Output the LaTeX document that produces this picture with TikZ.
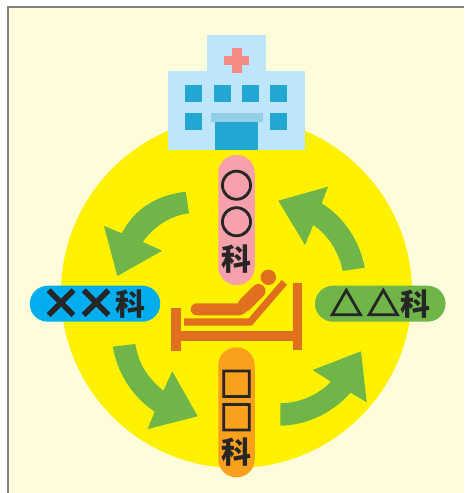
\documentclass[tikz,border=0pt]{standalone}
\usepackage{fontspec}
\usepackage{xcolor}
\usepackage{tikz}
\usetikzlibrary{positioning}
\newfontfamily\cjk{Noto Sans CJK JP}
\newfontfamily\cjkmark{Noto Sans CJK JP}[FakeBold=3.6]
\newfontfamily\cjkcross{Noto Sans CJK JP}[FakeBold=1]
\newcommand{\pmark}[2]{{\cjkmark\fontsize{#1}{33.5}\selectfont #2}}
\newcommand{\pcross}{\raisebox{-3pt}{\cjkcross\fontsize{42}{33.5}\selectfont ×}}
\definecolor{paper}{HTML}{FFFCDB}
\definecolor{sun}{HTML}{FFF100}
\definecolor{leaf}{HTML}{6FB548}
\definecolor{sky}{HTML}{00AEEF}
\definecolor{peach}{HTML}{FBA01D}
\definecolor{rose}{HTML}{F5A0AA}
\definecolor{rust}{HTML}{E1701E}
\definecolor{ward}{HTML}{BDE6FB}
\definecolor{pane}{HTML}{22A7D2}
\definecolor{awning}{HTML}{93CEE9}
\definecolor{redcross}{HTML}{F68A84}
\begin{document}
\begin{tikzpicture}[x=1pt, y=-1pt,
  pill/.style={rounded corners=18pt, inner sep=0pt, align=center, text=black!85,
               font=\cjk\bfseries\fontsize{30}{33.5}\selectfont},
  hpill/.style={pill, minimum width=130.5pt, minimum height=36pt},
  vpill/.style={pill, minimum width=36.5pt, minimum height=130pt},
  flow/.style={fill=leaf},
  pane box/.style={fill=pane}
]
  \useasboundingbox (0,0) rectangle (464,493);

  % Sheet
  \fill[paper] (8,7) rectangle (464,493);
  \draw[black!50, line width=1.6pt] (8,493) -- (8,7) -- (464,7);

  % Big disc
  \fill[sun] (236.5,292.5) circle [radius=175.5];

  % Hospital
  \fill[ward] (207,35) rectangle (266.3,71);
  \fill[ward] (167.7,70.7) rectangle (305.3,149.7);
  \fill[redcross] (232,48) rectangle (241.7,73.3);
  \fill[redcross] (224,56) rectangle (249,65.3);
  \foreach \px in {185,214,242,270}
    \fill[pane box] (\px,85) rectangle ++(17,17);
  \foreach \px in {185,270}
    \fill[pane box] (\px,113) rectangle ++(17,17);
  \fill[awning] (211,113) rectangle (263,122);
  \fill[pane box] (215,122) rectangle (258,149.7);

  % Departments
  \node[vpill, fill=rose] (maru) at (236.5,220) {};
  \node[vpill, fill=peach] (shikaku) at (236.5,412.3) {};
  \node[hpill, fill=sky] (batsu) at (95,303.7) {};
  \node[hpill, fill=leaf] (sankaku) at (380.3,303.7) {};

  % Labels on them
  \node[pill] (maru text) at ([yshift=-2pt]maru.center) {\pmark{33}{○}\\[3pt]\pmark{33}{○}\\[3pt]科};
  \node[pill] (shikaku text) at ([yshift=-6pt]shikaku.center) {\pmark{34}{□}\\\pmark{34}{□}\\科};
  \node[pill] (batsu text) at ([xshift=-2pt]batsu.center) {\pcross\hspace{-7pt}\pcross\hspace{-1pt}科};
  \node[pill] (sankaku text) at (sankaku.center) {\pmark{33}{△}\hspace{4pt}\pmark{33}{△}\hspace{1pt}科};

  % Arrows
  \fill[flow] (185.7,191.7) .. controls (150,196) and (132,214) .. (121.7,233.3)
    -- (104,226) -- (117.3,276) -- (162.3,250.7) -- (142.7,242)
    .. controls (153,228) and (168,216) .. (189,213.3) -- cycle;
  \fill[flow] (364.7,267.7) .. controls (360,242) and (345,218) .. (321.7,203.3)
    -- (328,186.7) -- (278.3,200.7) -- (305,245) -- (313.3,225)
    .. controls (328,235) and (339,252) .. (342.7,271) -- cycle;
  \fill[flow] (112.7,346.7) .. controls (118,375) and (133,397) .. (154.7,411.7)
    -- (147.7,429) -- (197.7,416.3) -- (172.3,371.3) -- (163.3,390.7)
    .. controls (148,378) and (139,365) .. (135.3,344) -- cycle;
  \fill[flow] (280.3,403.3) .. controls (300,403) and (318,395) .. (331,381.7)
    -- (312.7,370) -- (361,351.3) -- (366.7,402.3) -- (350.7,392.7)
    .. controls (332,413) and (308,425) .. (280.3,425.7) -- cycle;

  % Bed
  \fill[rust] (171,308) rectangle (181,350.7);
  \fill[rust] (293.3,282.7) rectangle (302,350);
  \fill[rust] (181,331) rectangle (293.3,340.7);
  \fill[rust] (184,318.3) -- (248.7,318.3) -- (281.7,280) -- (287,284.7)
    -- (251.7,325.7) -- (184,325.7) -- cycle;
  \draw[rust, line width=12pt, line cap=round, line join=round]
    (196.7,309.3) -- (240,309.3) -- (258.5,291);
  \draw[rust, line width=14pt, line cap=round] (245,304.5) -- (258.5,291);
  \fill[rust] (268.3,277.3) circle [radius=7.7];
\end{tikzpicture}
\end{document}
